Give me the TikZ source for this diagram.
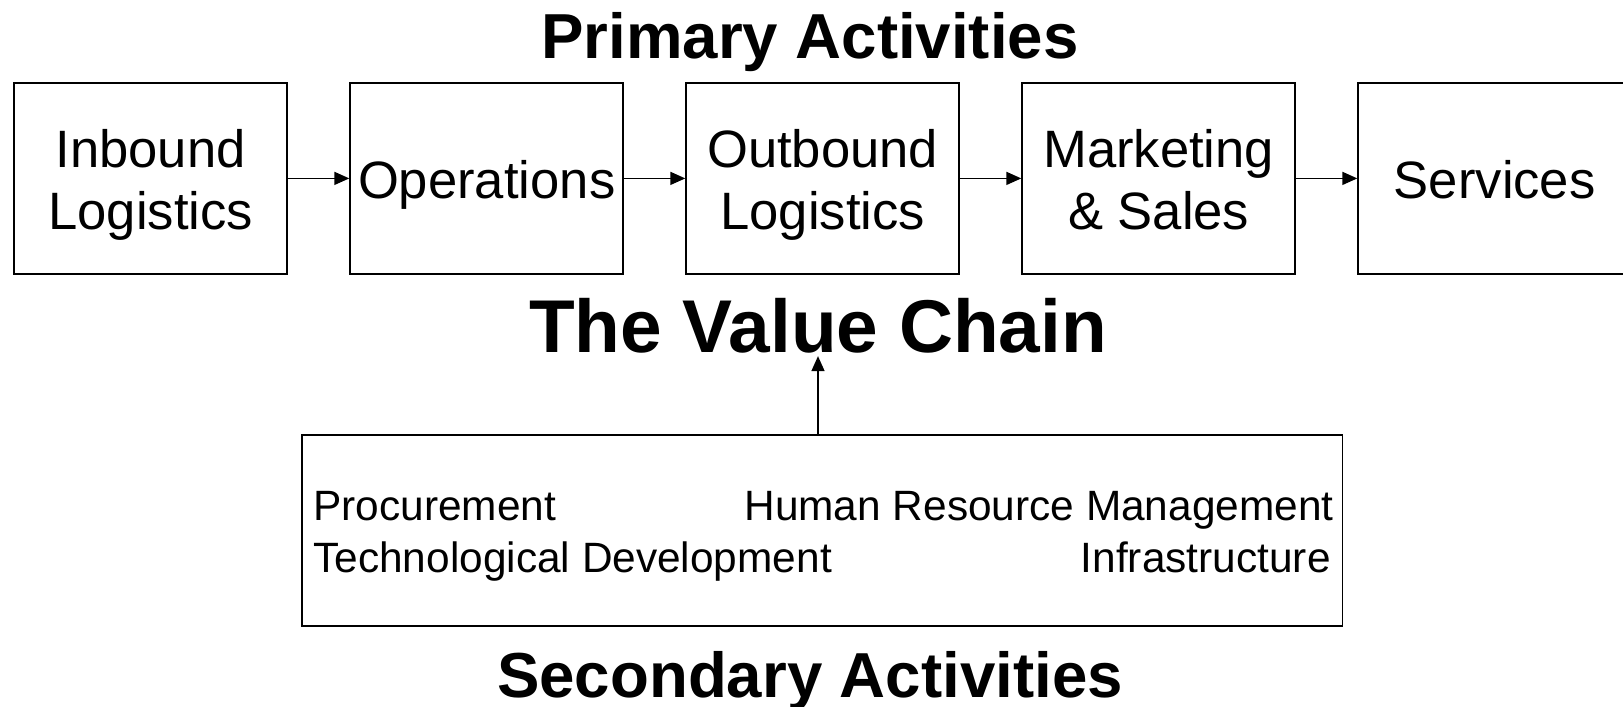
\documentclass[tikz,border=0pt]{standalone}
\usepackage{fontspec}
\setmainfont{Liberation Sans}
\usetikzlibrary{arrows.meta}
\begin{document}
\begin{tikzpicture}[x=0.5pt,y=-0.5pt,
  box/.style={draw, line width=0.9pt, minimum width=136.5pt, minimum height=95.6pt, inner sep=0pt},
  boxtext/.style={align=center, font=\fontsize{26.3}{31}\selectfont, inner sep=0pt, yshift=-4pt},
  arr/.style={line width=0.8pt, -{Triangle[length=7.5pt,width=6.5pt]}},
  titletext/.style={font=\bfseries\fontsize{31.8}{38}\selectfont, inner sep=0pt, anchor=base},
  sectext/.style={font=\fontsize{21.2}{25.5}\selectfont, inner sep=0pt}]
\useasboundingbox (0,0) rectangle (1623,707);

\node[titletext] (prim) at (810,58) {Primary Activities};

\node[box] (b1) at (150.7,178.4) {};
\node[box] (b2) at (486.7,178.4) {};
\node[box] (b3) at (822.7,178.4) {};
\node[box] (b4) at (1158.7,178.4) {};
\node[box] (b5) at (1494.7,178.4) {};

\node[boxtext] (t1) at (b1) {\strut Inbound\strut\\\strut Logistics\strut};
\node[boxtext] (t2) at (b2) {\strut Operations\strut};
\node[boxtext] (t3) at (b3) {\strut Outbound\strut\\\strut Logistics\strut};
\node[boxtext] (t4) at (b4) {\strut Marketing\strut\\\strut \& Sales\strut};
\node[boxtext] (t5) at (b5) {\strut Services\strut};

\draw[arr] (b1.east) -- (b2.west);
\draw[arr] (b2.east) -- (b3.west);
\draw[arr] (b3.east) -- (b4.west);
\draw[arr] (b4.east) -- (b5.west);

\node[titletext, font=\bfseries\fontsize{37.4}{44}\selectfont] (vc) at (818,352) {The Value Chain};

\node[box, minimum width=520.25pt] (sec) at (822.3,530.3) {};

\node[sectext, anchor=base west] (s1) at (313,520.5) {Procurement};
\node[sectext, anchor=base east] (s2) at (1334,520.5) {Human Resource Management};
\node[sectext, anchor=base west] (s3) at (313,572) {Technological Development};
\node[sectext, anchor=base east] (s4) at (1331,572) {Infrastructure};

\draw[arr] (sec.north -| vc.south) -- ([yshift=-1.5pt]vc.south);

\node[titletext] (secact) at (810,697) {Secondary Activities};
\end{tikzpicture}
\end{document}
